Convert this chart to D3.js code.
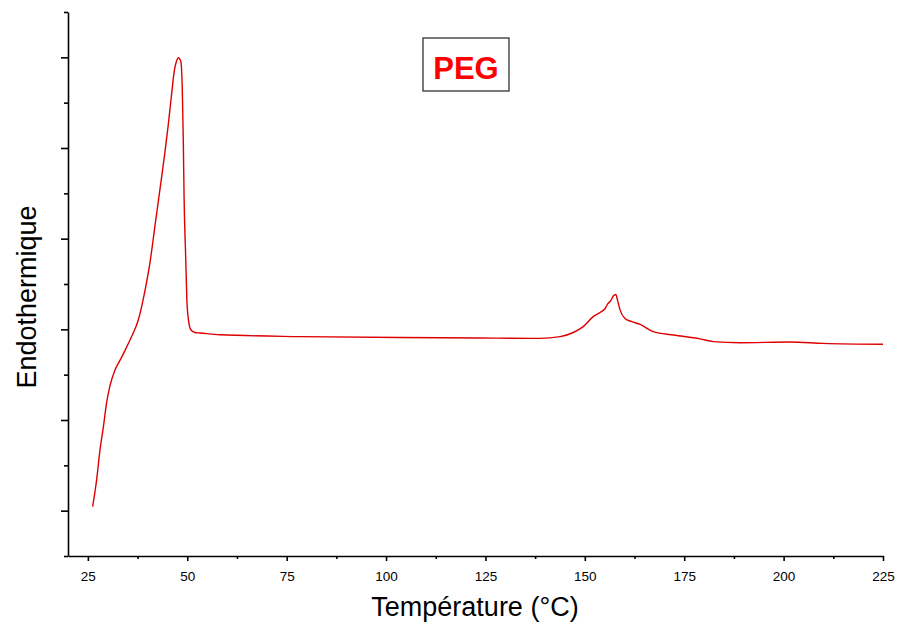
<!DOCTYPE html>
<html>
<head>
<meta charset="utf-8">
<script src="https://cdn.jsdelivr.net/npm/d3@7"></script>
<style>
  body { margin: 0; background: #fff; }
  svg { font-family: "Liberation Sans", Arial, sans-serif; }
</style>
</head>
<body>
<svg id="dsc" width="899" height="628"></svg>
<script>
// temperature (°C) and heat flow (arbitrary units)
var temps = [26.2, 27.2, 28.05, 28.9, 29.7, 30.6, 31.8, 33.1, 34.6, 36.0, 37.7, 39.4, 40.6, 41.9, 43.1, 44.4, 45.2, 46.1, 46.7, 47.3, 47.75, 48.2, 48.45, 48.75, 49.0, 49.2, 49.6, 49.9, 50.3, 50.9, 51.9, 53.2, 58.2, 78.4, 103.5, 123.6, 138.7, 143.8, 147.1, 149.6, 152.1, 153.8, 155.1, 155.75, 156.5, 157.2, 157.8, 158.2, 158.85, 160.1, 161.8, 163.9, 167.2, 172.3, 179.0, 182.3, 189.0, 201.6, 210.0, 225.0];
var flow = [0.09, 0.68, 1.34, 1.85, 2.38, 2.77, 3.10, 3.32, 3.58, 3.84, 4.21, 4.87, 5.46, 6.30, 7.07, 7.92, 8.50, 9.22, 9.68, 9.92, 9.99, 9.95, 9.87, 9.28, 8.18, 6.90, 5.60, 4.65, 4.21, 3.99, 3.93, 3.92, 3.88, 3.84, 3.82, 3.81, 3.80, 3.84, 3.93, 4.06, 4.28, 4.37, 4.46, 4.56, 4.63, 4.74, 4.77, 4.65, 4.43, 4.24, 4.17, 4.11, 3.95, 3.875, 3.79, 3.73, 3.705, 3.72, 3.69, 3.67];
var xTicks = [25, 50, 75, 100, 125, 150, 175, 200, 225];
var xMinor = [37.5, 62.5, 87.5, 112.5, 137.5, 162.5, 187.5, 212.5];
var yMajor = [0, 2, 4, 6, 8, 10];
var yMinor = [-1, 1, 3, 5, 7, 9, 11];

var svg = d3.select("#dsc");
var plot = {left: 68, right: 883, top: 12, bottom: 556};

var xScale = d3.scaleLinear().domain([20, 225]).range([plot.left, plot.right]);
var yScale = d3.scaleLinear().domain([-1, 11]).range([plot.bottom, plot.top]);

// x axis
var xAxis = svg.append("g")
    .attr("transform", "translate(0," + plot.bottom + ")")
    .call(d3.axisBottom(xScale).tickValues(xTicks).tickSize(5).tickSizeOuter(0).tickPadding(10));
svg.append("g")
    .attr("transform", "translate(0," + plot.bottom + ")")
    .call(d3.axisBottom(xScale).tickValues(xMinor).tickSize(3).tickFormat(""))
    .select(".domain").remove();
xAxis.selectAll("text").attr("font-size", 13.5).attr("fill", "#000");

// y axis (no labels)
svg.append("g")
    .attr("transform", "translate(" + plot.left + ",0)")
    .call(d3.axisLeft(yScale).tickValues(yMajor).tickSize(7).tickSizeOuter(0).tickFormat(""));
svg.append("g")
    .attr("transform", "translate(" + plot.left + ",0)")
    .call(d3.axisLeft(yScale).tickValues(yMinor).tickSize(4).tickFormat(""))
    .select(".domain").remove();

svg.selectAll(".domain, .tick line").attr("stroke", "#000").attr("stroke-width", 1.6);

// curve
var line = d3.line()
    .x(function (d, i) { return xScale(temps[i]); })
    .y(function (d) { return yScale(d); })
    .curve(d3.curveMonotoneX);

svg.append("path")
    .datum(flow)
    .attr("d", line)
    .attr("fill", "none")
    .attr("stroke", "#dd0000")
    .attr("stroke-width", 1.4);

// titles
svg.append("text")
    .attr("x", 475).attr("y", 616)
    .attr("text-anchor", "middle")
    .attr("font-size", 27)
    .text("Température (°C)");

svg.append("text")
    .attr("transform", "translate(36,297) rotate(-90)")
    .attr("text-anchor", "middle")
    .attr("font-size", 27)
    .text("Endothermique");

// PEG label
svg.append("rect")
    .attr("x", 423).attr("y", 38).attr("width", 86).attr("height", 53)
    .attr("fill", "#fff").attr("stroke", "#333").attr("stroke-width", 1.3);
svg.append("text")
    .attr("x", 466).attr("y", 79)
    .attr("text-anchor", "middle")
    .attr("font-size", 31).attr("font-weight", "bold")
    .attr("fill", "#ff0000")
    .text("PEG");
</script>
</body>
</html>
